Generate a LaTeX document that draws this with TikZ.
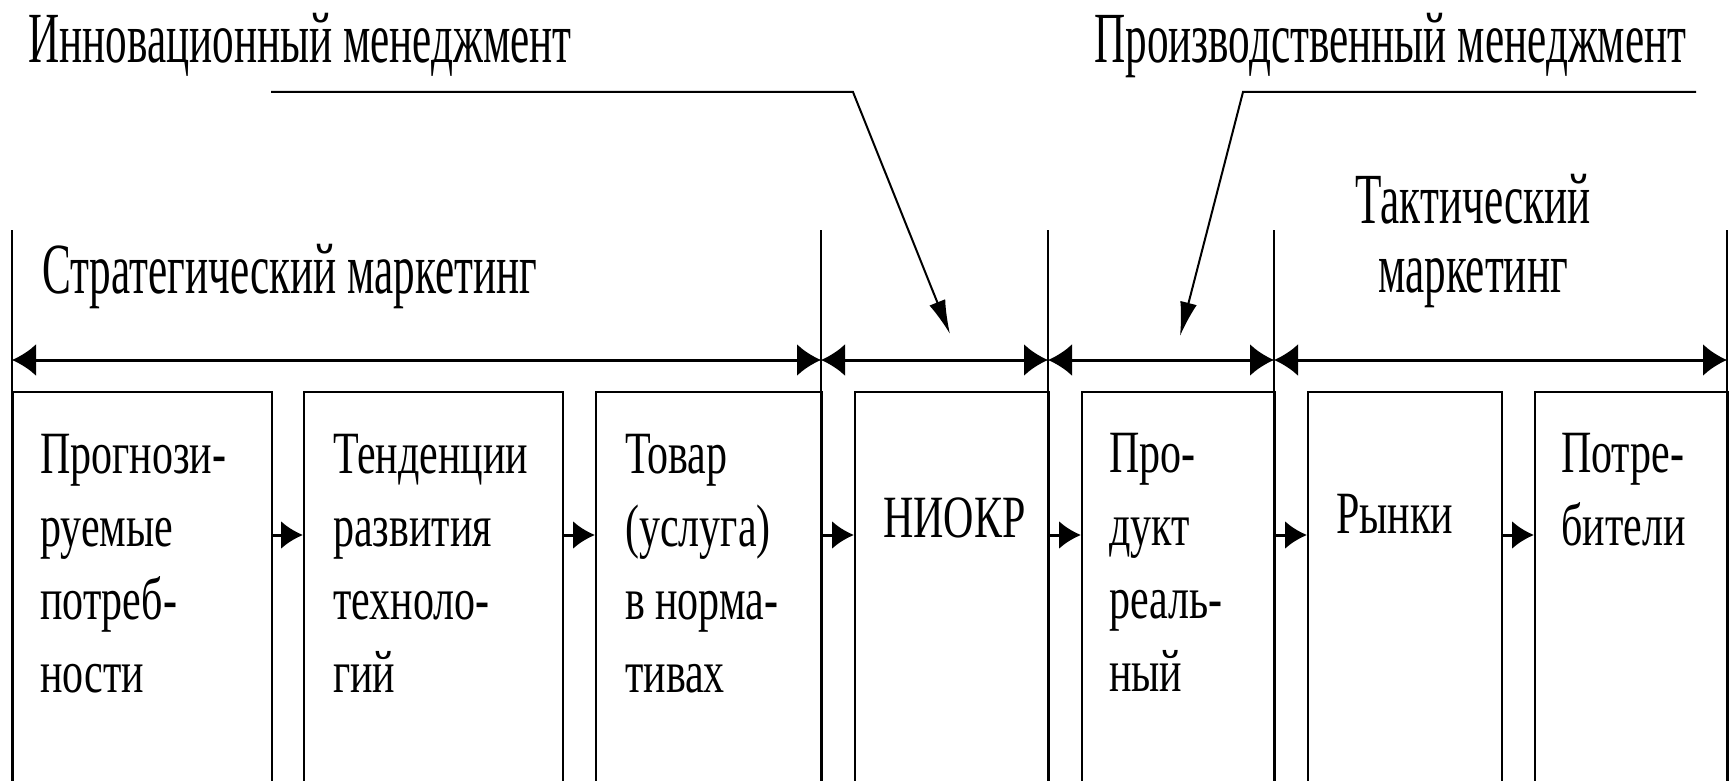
\documentclass[tikz,border=0pt]{standalone}
\usepackage{fontspec}
\setmainfont[FakeStretch=0.7]{Liberation Serif}
\newfontfamily\headfont[FakeStretch=0.6]{Liberation Serif}
\usetikzlibrary{arrows.meta,calc}
\newcommand\mlines[1]{\begin{tabular}[t]{@{}l@{}}#1\end{tabular}}
\newcommand\clines[1]{\begin{tabular}[t]{@{}c@{}}#1\end{tabular}}
\begin{document}
\begin{tikzpicture}[x=1pt,y=-1pt,
  boxnode/.style={draw,line width=2pt,rectangle,inner sep=0pt,anchor=north west,minimum height=430pt},
  bodytext/.style={inner sep=0pt,anchor=base west,font=\fontsize{60}{73}\selectfont},
  headtext/.style={inner sep=0pt,anchor=base west,font=\headfont\fontsize{72}{70}\selectfont},
  sepline/.style={line width=1.5pt},
  dblarrow/.style={line width=3pt,{Latex[length=24pt,width=32pt]}-{Latex[length=24pt,width=32pt]}},
  smallarrow/.style={line width=3pt,-{Latex[length=22pt,width=28pt]}},
  pointer/.style={line width=2pt,-{Latex[length=34pt,width=17pt]}}
]
\useasboundingbox (0,0) rectangle (1733,781);
\clip (0,0) rectangle (1733,781);
% separator lines
\coordinate (v0) at (12,230);
\coordinate (v1) at (821,230);
\coordinate (v2) at (1048,230);
\coordinate (v3) at (1274,230);
\coordinate (v4) at (1727,230);
\foreach \v in {v0,v1,v2,v3,v4}{\draw[sepline] (\v) -- ++(0,600);}
% double arrows
\coordinate (a0) at (12,360);
\coordinate (a1) at (821,360);
\coordinate (a2) at (1048,360);
\coordinate (a3) at (1274,360);
\coordinate (a4) at (1727,360);
\draw[dblarrow] (a0) -- (a1);
\draw[dblarrow] (a1) -- (a2);
\draw[dblarrow] (a2) -- (a3);
\draw[dblarrow] (a3) -- (a4);
% boxes
\node[boxnode,minimum width=259pt] (b1) at (12,391) {};
\node[boxnode,minimum width=259pt] (b2) at (303,391) {};
\node[boxnode,minimum width=226pt] (b3) at (595,391) {};
\node[boxnode,minimum width=194pt] (b4) at (854,391) {};
\node[boxnode,minimum width=193pt] (b5) at (1081,391) {};
\node[boxnode,minimum width=194pt] (b6) at (1307,391) {};
\node[boxnode,minimum width=193pt] (b7) at (1534,391) {};
% small arrows
\foreach \p/\q in {b1/b2,b2/b3,b3/b4,b4/b5,b5/b6,b6/b7}{
  \draw[smallarrow] ($(\p.north east)+(0,144)$) -- ($(\q.north west)+(0,144)$);}
% box texts
\node[bodytext] (t1) at (40,473) {\mlines{Прогнози-\\руемые\\потреб-\\ности}};
\node[bodytext] (t2) at (333,473) {\mlines{Тенденции\\развития\\техноло-\\гий}};
\node[bodytext] (t3) at (625,473) {\mlines{Товар\\(услуга)\\в норма-\\тивах}};
\node[bodytext] (t4) at (883,537) {НИОКР};
\node[bodytext] (t5) at (1109,472) {\mlines{Про-\\дукт\\реаль-\\ный}};
\node[bodytext] (t6) at (1336,533) {Рынки};
\node[bodytext] (t7) at (1561,472) {\mlines{Потре-\\бители}};
% headings
\node[headtext] (h1) at (28,63) {Инновационный менеджмент};
\node[headtext] (h2) at (1094,63) {Производственный менеджмент};
\node[headtext] (h3) at (42,293) {Стратегический маркетинг};
\node[headtext,anchor=base] (h4) at (1473,223) {\clines{Тактический\\маркетинг}};
% pointers
\coordinate (p1s) at (271,92);
\coordinate (p1c) at (853,92);
\coordinate (p1e) at (950,334);
\coordinate (p2s) at (1696,92);
\coordinate (p2c) at (1243,92);
\coordinate (p2e) at (1180,336);
\draw[pointer] (p1s) -- (p1c) -- (p1e);
\draw[pointer] (p2s) -- (p2c) -- (p2e);
\end{tikzpicture}
\end{document}
